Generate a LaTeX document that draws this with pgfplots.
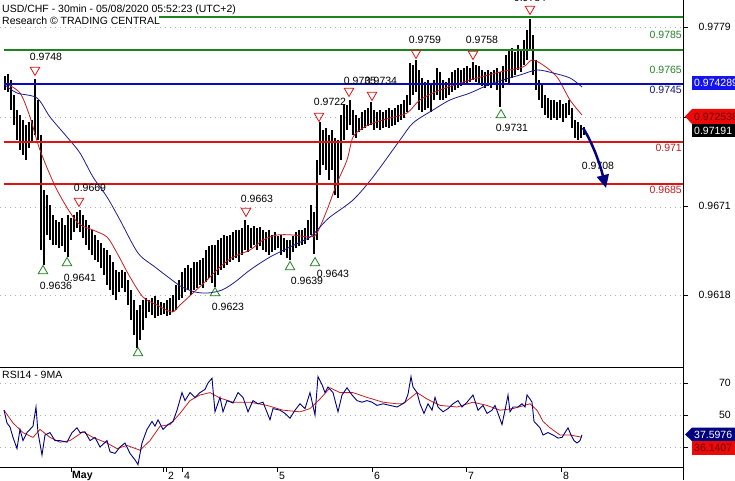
\documentclass[border=0pt]{standalone}
\usepackage{pgfplots}
\pgfplotsset{compat=1.18}
\usepackage{pgfplotstable}
\usepackage{fontspec}
\setmainfont{Liberation Sans}
\usetikzlibrary{arrows.meta}
\definecolor{lgreen}{RGB}{30,130,30}
\definecolor{lblue}{RGB}{10,10,190}
\definecolor{lred}{RGB}{220,20,20}
\definecolor{tgreen}{RGB}{40,130,40}
\definecolor{tnavy}{RGB}{20,20,120}
\definecolor{tred}{RGB}{190,30,30}
\definecolor{maRed}{RGB}{200,30,30}
\definecolor{maBlue}{RGB}{30,30,140}
\definecolor{navyarr}{RGB}{0,0,128}
\definecolor{tagblue}{RGB}{20,20,240}
\definecolor{tagred}{RGB}{235,10,10}
\definecolor{tagtxt}{RGB}{110,0,0}
\definecolor{gridc}{RGB}{175,175,175}

\pgfplotstableread{
x lo hi
5 0.97412 0.97496
8 0.97400 0.97508
11 0.97292 0.97472
14 0.97202 0.97382
17 0.97112 0.97292
20 0.97052 0.97262
23 0.97022 0.97232
26 0.96992 0.97202
29 0.97064 0.97220
32 0.97100 0.97232
35 0.97142 0.97480
38 0.97112 0.97352
41 0.96452 0.97142
44 0.96360 0.96812
47 0.96542 0.96782
50 0.96512 0.96722
53 0.96482 0.96662
56 0.96482 0.96632
59 0.96464 0.96620
62 0.96476 0.96644
65 0.96440 0.96602
68 0.96410 0.96662
71 0.96512 0.96644
74 0.96560 0.96662
77 0.96584 0.96680
80 0.96560 0.96690
83 0.96524 0.96662
86 0.96482 0.96632
89 0.96452 0.96602
92 0.96422 0.96572
95 0.96392 0.96542
98 0.96380 0.96512
101 0.96344 0.96494
104 0.96302 0.96464
107 0.96242 0.96452
110 0.96212 0.96422
113 0.96182 0.96380
116 0.96152 0.96332
119 0.96200 0.96320
122 0.96224 0.96332
125 0.96200 0.96320
128 0.96122 0.96272
131 0.96032 0.96212
134 0.95942 0.96152
137 0.95864 0.96092
140 0.95912 0.96122
143 0.95972 0.96152
146 0.96044 0.96164
149 0.96080 0.96152
152 0.96062 0.96164
155 0.96044 0.96176
158 0.96056 0.96152
161 0.96062 0.96140
164 0.96068 0.96134
167 0.96056 0.96152
170 0.96062 0.96164
173 0.96080 0.96182
176 0.96092 0.96242
179 0.96152 0.96272
182 0.96164 0.96320
185 0.96200 0.96344
188 0.96212 0.96362
191 0.96182 0.96344
194 0.96212 0.96380
197 0.96224 0.96380
200 0.96242 0.96392
203 0.96224 0.96404
206 0.96260 0.96452
209 0.96284 0.96476
212 0.96254 0.96482
215 0.96230 0.96482
218 0.96302 0.96512
221 0.96332 0.96524
224 0.96344 0.96542
227 0.96362 0.96536
230 0.96380 0.96542
233 0.96392 0.96560
236 0.96404 0.96572
239 0.96380 0.96572
242 0.96422 0.96584
245 0.96452 0.96630
248 0.96440 0.96602
251 0.96464 0.96584
254 0.96482 0.96596
257 0.96452 0.96584
260 0.96476 0.96590
263 0.96452 0.96572
266 0.96440 0.96560
269 0.96422 0.96572
272 0.96440 0.96542
275 0.96452 0.96560
278 0.96464 0.96536
281 0.96422 0.96542
284 0.96440 0.96524
287 0.96404 0.96512
290 0.96390 0.96512
293 0.96440 0.96536
296 0.96464 0.96560
299 0.96476 0.96572
302 0.96482 0.96572
305 0.96488 0.96584
308 0.96512 0.96632
311 0.96542 0.96722
314 0.96430 0.96680
317 0.96512 0.96992
320 0.96902 0.97220
323 0.96962 0.97172
326 0.96932 0.97184
329 0.96872 0.97142
332 0.96932 0.97172
335 0.96782 0.97124
338 0.96764 0.97112
341 0.96992 0.97262
344 0.97112 0.97330
347 0.97172 0.97322
350 0.97202 0.97350
353 0.97142 0.97292
356 0.97124 0.97262
359 0.97160 0.97244
362 0.97172 0.97280
365 0.97184 0.97292
368 0.97196 0.97304
371 0.97202 0.97340
374 0.97172 0.97292
377 0.97184 0.97280
380 0.97172 0.97292
383 0.97184 0.97280
386 0.97190 0.97292
389 0.97184 0.97304
392 0.97196 0.97292
395 0.97202 0.97304
398 0.97220 0.97322
401 0.97232 0.97328
404 0.97244 0.97352
407 0.97280 0.97382
410 0.97322 0.97574
413 0.97382 0.97562
416 0.97400 0.97590
419 0.97292 0.97532
422 0.97280 0.97484
425 0.97292 0.97460
428 0.97304 0.97472
431 0.97280 0.97442
434 0.97352 0.97472
437 0.97382 0.97544
440 0.97352 0.97520
443 0.97352 0.97472
446 0.97364 0.97460
449 0.97382 0.97484
452 0.97400 0.97520
455 0.97412 0.97532
458 0.97424 0.97544
461 0.97436 0.97532
464 0.97442 0.97544
467 0.97448 0.97556
470 0.97460 0.97544
473 0.97472 0.97580
476 0.97460 0.97562
479 0.97448 0.97556
482 0.97436 0.97532
485 0.97424 0.97520
488 0.97436 0.97532
491 0.97424 0.97520
494 0.97448 0.97532
497 0.97412 0.97544
500 0.97310 0.97520
503 0.97424 0.97556
506 0.97460 0.97622
509 0.97442 0.97652
512 0.97484 0.97664
515 0.97502 0.97640
518 0.97532 0.97682
521 0.97520 0.97652
524 0.97562 0.97712
527 0.97592 0.97772
530 0.97652 0.97840
533 0.97502 0.97742
536 0.97412 0.97592
539 0.97352 0.97472
542 0.97304 0.97442
545 0.97262 0.97382
548 0.97244 0.97364
551 0.97232 0.97352
554 0.97244 0.97352
557 0.97232 0.97340
560 0.97244 0.97352
563 0.97220 0.97328
566 0.97244 0.97334
569 0.97262 0.97352
572 0.97184 0.97304
575 0.97126 0.97232
578 0.97114 0.97220
581 0.97126 0.97202
584 0.97142 0.97190
}\candles

\begin{document}
\begin{tikzpicture}[x=1pt,y=1pt,font=\fontsize{10.5}{12}\selectfont]
\useasboundingbox (0,0) rectangle (735,480);
\clip (0,0) rectangle (735,480);
\fill[white] (0,0) rectangle (735,480);

% ---------------- price panel ----------------
\begin{axis}[at={(0pt,113pt)}, anchor=south west, scale only axis,
  width=683pt, height=367pt, xmin=0, xmax=683, ymin=0.95750, ymax=0.97952,
  axis lines=none, clip=true]
% dotted grid
\foreach \g in {0.9779,0.9725,0.9671,0.9618}{
  \edef\tmp{\noexpand\draw[gridc, line width=0.8pt, dash pattern=on 0.8pt off 4.2pt] (axis cs:0,\g) -- (axis cs:683,\g);}\tmp}
% candles (high-low)
\addplot[draw=none, mark=none, forget plot,
  error bars/.cd, y dir=plus, y explicit, error mark=none,
  error bar style={draw=black, line width=1.8pt}]
  table[x=x, y=lo, y error expr=\thisrow{hi}-\thisrow{lo}] {\candles};
% fast MA (red)
\addplot[maRed, line width=0.8pt, mark=none, smooth] coordinates {
(5,0.97454)(20,0.97394)(30,0.97250)(40,0.97052)(57,0.96812)(77,0.96620)
(93,0.96572)(107,0.96530)(117,0.96434)(130,0.96290)(143,0.96170)(157,0.96122)
(172,0.96080)(180,0.96122)(193,0.96194)(207,0.96272)(220,0.96350)(233,0.96410)
(250,0.96452)(263,0.96512)(277,0.96542)(293,0.96542)(310,0.96530)(317,0.96554)
(327,0.96692)(337,0.96854)(347,0.96992)(353,0.97130)(363,0.97184)(373,0.97214)
(390,0.97244)(407,0.97274)(420,0.97352)(440,0.97412)(470,0.97472)(500,0.97520)
(523,0.97550)(532,0.97592)(543,0.97562)(557,0.97490)(570,0.97352)(582,0.97262)};
% slow MA (blue)
\addplot[maBlue, line width=0.8pt, mark=none, smooth] coordinates {
(5,0.97442)(17,0.97394)(37,0.97364)(50,0.97250)(67,0.97130)(80,0.97034)
(93,0.96890)(107,0.96770)(120,0.96632)(138,0.96434)(155,0.96350)(172,0.96272)
(182,0.96230)(195,0.96200)(208,0.96194)(222,0.96212)(235,0.96260)(250,0.96332)
(270,0.96410)(290,0.96470)(310,0.96530)(320,0.96590)(330,0.96650)(353,0.96752)
(373,0.96890)(400,0.97112)(413,0.97214)(433,0.97292)(450,0.97352)(470,0.97394)
(493,0.97454)(520,0.97502)(537,0.97532)(553,0.97514)(570,0.97484)(582,0.97430)};
% level lines
\draw[lgreen, line width=2pt] (axis cs:159,0.9785) -- (axis cs:683,0.9785);
\draw[lgreen, line width=2pt] (axis cs:4,0.9765) -- (axis cs:683,0.9765);
\draw[lblue, line width=2pt] (axis cs:4,0.9745) -- (axis cs:683,0.9745);
\draw[lred, line width=2pt] (axis cs:4,0.9710) -- (axis cs:683,0.9710);
\draw[lred, line width=2pt] (axis cs:4,0.9685) -- (axis cs:683,0.9685);
\node[tgreen, anchor=east, inner sep=0pt] at (axis cs:682,0.97742) {0.9785};
\node[tgreen, anchor=east, inner sep=0pt] at (axis cs:682,0.97532) {0.9765};
\node[tnavy, anchor=east, inner sep=0pt] at (axis cs:682,0.97412) {0.9745};
\node[tred, anchor=east, inner sep=0pt] at (axis cs:682,0.97064) {0.971};
\node[tred, anchor=east, inner sep=0pt] at (axis cs:682,0.96812) {0.9685};
% swing markers
\addplot[only marks, mark=triangle, mark size=5.5pt, mark options={rotate=180, draw=lred, line width=0.8pt}] coordinates {
(35,0.97532)(79,0.96746)(246,0.96686)(319,0.97256)(349,0.97406)(372,0.97382)
(416,0.97634)(473,0.97628)(530,0.97898)};
\addplot[only marks, mark=triangle, mark size=5.5pt, mark options={draw=lgreen, line width=0.8pt}] coordinates {
(43,0.96326)(67,0.96374)(138,0.95834)(215,0.96194)(290,0.96350)(315,0.96374)(501,0.97262)};
\node at (axis cs:46,0.97610) {0.9748};
\node at (axis cs:90,0.96824) {0.9669};
\node at (axis cs:56,0.96236) {0.9636};
\node at (axis cs:80,0.96284) {0.9641};
\node at (axis cs:228,0.96110) {0.9623};
\node at (axis cs:257,0.96758) {0.9663};
\node at (axis cs:307,0.96266) {0.9639};
\node at (axis cs:333,0.96308) {0.9643};
\node at (axis cs:330,0.97340) {0.9722};
\node at (axis cs:360,0.97466) {0.9735};
\node at (axis cs:381,0.97466) {0.9734};
\node at (axis cs:425,0.97712) {0.9759};
\node at (axis cs:482,0.97712) {0.9758};
\node at (axis cs:512,0.97184) {0.9731};
\node at (axis cs:530,0.97962) {0.9784};
\node at (axis cs:598,0.96956) {0.9708};
% projection arrow
\draw[navyarr, line width=2.5pt, -{Triangle[length=13pt,width=12pt]}]
  (axis cs:583,0.97184) .. controls (axis cs:591,0.97110) and (axis cs:599,0.96990) .. (axis cs:606,0.96824);
\end{axis}

% ---------------- RSI panel ----------------
\begin{axis}[at={(0pt,13pt)}, anchor=south west, scale only axis,
  width=683pt, height=100pt, xmin=0, xmax=683, ymin=17.5, ymax=80,
  axis lines=none, clip=true]
\foreach \g in {70,50,30}{
  \edef\tmp{\noexpand\draw[gridc, line width=0.8pt, dash pattern=on 0.8pt off 4.2pt] (axis cs:0,\g) -- (axis cs:683,\g);}\tmp}
\addplot[maRed, line width=0.8pt, mark=none] coordinates {
(4,53)(13,45)(23,39)(33,36)(40,41)(50,36)(60,33)(70,34)(83,39.5)(93,36)(107,32.5)
(117,29)(127,31)(140,28)(150,34)(160,43)(170,44)(180,51)(190,59)(200,62.5)(210,64)
(220,60.6)(233,58)(250,58)(267,56)(283,53)(300,52)(310,54)(320,60)(330,67)(340,64)
(353,64)(367,61)(383,58)(397,57)(403,57)(417,64)(427,60)(440,56)(457,55)(473,58)
(487,56)(500,53)(513,54)(530,57)(537,53)(543,46)(550,42)(560,37.5)(570,37.5)(582,36.1)};
\addplot[navyarr, line width=0.9pt, mark=none] coordinates {
(4,53)(7,45)(10,42.5)(13,36)(17,29)(20,41)(23,34)(27,39)(30,41)(33,43)(36,55)(38,39)
(42,25)(45,37.5)(50,39)(55,34)(60,34)(67,33)(72,39)(77,42)(80,39)(85,39.5)(90,34)
(95,36)(100,30)(107,34)(110,27)(115,26)(120,30)(125,32.5)(130,26)(135,22)(138,19)
(142,32.5)(147,41)(152,46)(155,43)(158,47)(163,41)(168,44)(173,46)(177,53)(182,64)
(185,59)(190,64)(195,61)(200,64)(205,66)(208,70)(212,73)(215,52)(220,61)(223,52)
(227,59)(233,57.5)(238,64)(243,61)(248,52)(253,59)(258,57)(263,58)(270,47)(273,54)
(280,53)(285,51)(290,48)(295,53)(300,57)(305,54)(310,64)(315,50)(318,74)(322,69)
(325,64)(328,67.5)(333,64)(338,52)(342,62.5)(347,67)(352,62.5)(357,59)(362,58)
(367,59)(372,58)(377,56)(383,57)(390,56)(397,55)(400,56)(405,58)(408,63)(411,74)
(413,67.5)(417,64)(420,57)(424,51)(428,57)(432,53)(435,61)(438,55)(443,52)(448,54)
(453,57)(458,59)(462,55)(467,58)(473,62.5)(478,53)(483,56)(487,51)(492,53)(495,56)
(498,51)(502,44)(505,53)(508,62.5)(510,52)(513,55)(518,55)(522,57)(525,55)(527,62.5)
(530,60)(532,58)(534,46)(537,44)(540,42)(543,37.5)(548,39)(553,37.5)(558,35.6)
(562,36)(565,39)(568,42)(571,37.5)(574,34)(577,32.5)(580,34)(582,37.6)};
\end{axis}

% frame lines
\draw[black, line width=1pt] (0,113) -- (683,113);
\draw[black, line width=1pt] (0,13) -- (683,13);
\draw[black, line width=1pt] (683,0) -- (683,480);
% right axis ticks and labels
\foreach \yy/\lab in {453/0.9779, 274/0.9671, 185/0.9618, 97/70, 65/50}{
  \draw[black, line width=0.8pt] (683,\yy) -- (688,\yy);
  \node[anchor=east, inner sep=0pt] at (731,\yy) {\lab};}
\draw[black, line width=0.8pt] (683,363) -- (688,363);
\draw[black, line width=0.8pt] (683,33) -- (688,33);
% price tags
\fill[tagblue] (692,390) rectangle (735,404);
\node[white, anchor=west, inner sep=0pt] at (694,397) {0.974289};
\fill[tagred] (685,363.5) -- (692,371) -- (735,371) -- (735,356) -- (692,356) -- cycle;
\node[tagtxt, anchor=west, inner sep=0pt] at (694,363.5) {0.972538};
\fill[black] (692,343) rectangle (735,356);
\node[white, anchor=west, inner sep=0pt] at (694,349.5) {0.97191};
\fill[navyarr] (685,45.5) -- (692,52.5) -- (735,52.5) -- (735,39) -- (692,39) -- cycle;
\node[white, anchor=west, inner sep=0pt] at (694,45.5) {37.5976};
\fill[tagred] (692,25) rectangle (735,39);
\node[tagtxt, anchor=west, inner sep=0pt] at (694,32) {36.1407};
% titles
\node[anchor=west, inner sep=0pt] at (2,470) {USD/CHF - 30min - 05/08/2020 05:52:23 (UTC+2)};
\node[anchor=west, inner sep=0pt] at (2,459) {Research \textcopyright\ TRADING CENTRAL};
\node[anchor=west, inner sep=0pt] at (2,105) {RSI14 - 9MA};
% date axis
\foreach \xx in {71,163,166,182,277,372,466,561}{\draw[black, line width=0.8pt] (\xx,13) -- (\xx,8);}
\node[anchor=west, inner sep=0pt] at (72,4.5) {\textbf{May}};
\foreach \xx/\lab in {168/2,184/4,279/5,374/6,468/7,563/8}{
  \node[anchor=west, inner sep=0pt] at (\xx,4.5) {\lab};}
\end{tikzpicture}
\end{document}
